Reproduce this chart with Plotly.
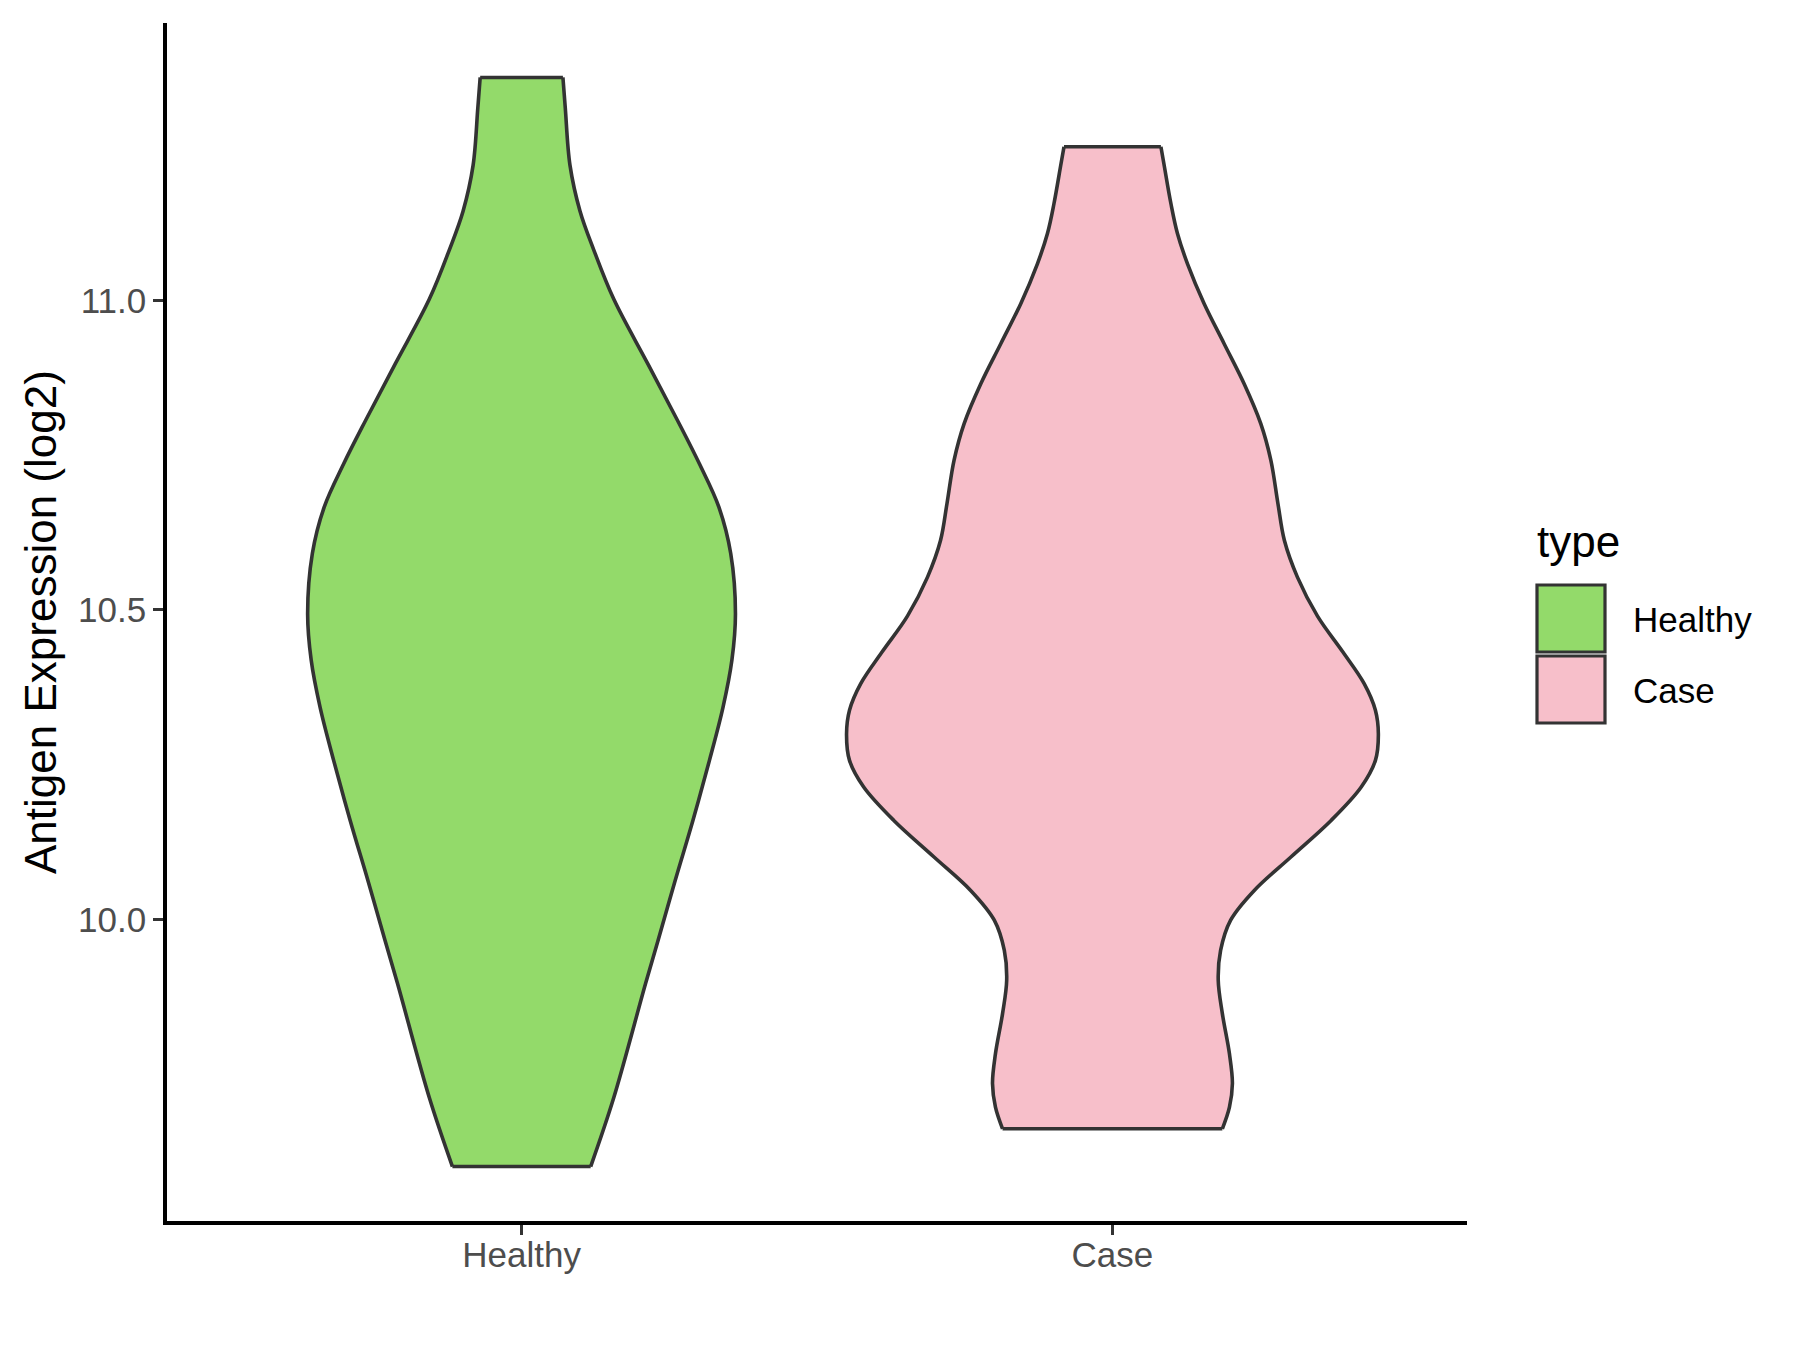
import plotly.graph_objects as go

# groups and colours (ggplot violin, fill by type)
categories = ["Healthy", "Case"]
fill_colors = ["#93DA6A", "#F7BFCA"]
outline_color = "#333333"

# density outline: expression value and half-width (x units)
healthy_y = [11.360, 11.311, 11.218, 11.144, 11.082, 11.002, 10.897, 10.806, 10.736,
             10.666, 10.591, 10.494, 10.419, 10.343, 10.257, 10.160, 10.063, 9.966,
             9.897, 9.712, 9.601]
healthy_w = [0.070, 0.074, 0.082, 0.099, 0.122, 0.156, 0.214, 0.264, 0.301,
             0.334, 0.354, 0.362, 0.356, 0.341, 0.318, 0.290, 0.260, 0.231,
             0.210, 0.156, 0.117]

case_y = [11.248, 11.221, 11.156, 11.108, 11.059, 10.995, 10.930, 10.865, 10.801,
          10.742, 10.672, 10.612, 10.553, 10.490, 10.432, 10.381, 10.338, 10.300,
          10.257, 10.214, 10.160, 10.101, 10.047, 9.999, 9.950, 9.902, 9.848,
          9.783, 9.735, 9.697, 9.662]
case_w = [0.082, 0.087, 0.099, 0.110, 0.127, 0.155, 0.189, 0.223, 0.251,
          0.268, 0.280, 0.291, 0.313, 0.347, 0.390, 0.426, 0.445, 0.450,
          0.445, 0.421, 0.370, 0.302, 0.240, 0.200, 0.183, 0.179, 0.186,
          0.198, 0.203, 0.198, 0.186]

y_ticks = [10.0, 10.5, 11.0]
y_title = "Antigen Expression (log2)"
legend_title = "type"

FONT = "Liberation Sans, Arial, sans-serif"
W, H = 1800, 1350
# page body adds 8px, so plot area lands at x 167..1467, y 23..1221 on screen
L, T = 159, 15
PW, PH = 1300, 1198
R, B = W - L - PW, H - T - PH

profiles = [(healthy_y, healthy_w), (case_y, case_w)]
line_w = 3.6

fig = go.Figure()
for i, (name, (ys, ws), color) in enumerate(zip(categories, profiles, fill_colors)):
    pos = i + 1
    side = dict(color=outline_color, width=line_w, shape="spline", smoothing=1.0)
    # left edge, then right edge filled back to it
    fig.add_trace(go.Scatter(x=[pos - w for w in ws], y=ys, mode="lines", line=side,
                             showlegend=False, hoverinfo="skip"))
    fig.add_trace(go.Scatter(x=[pos + w for w in ws], y=ys, mode="lines", line=side,
                             fill="tonextx", fillcolor=color, name=name,
                             showlegend=False, hoverinfo="skip"))
    # flat ends of the violin
    fig.add_trace(go.Scatter(
        x=[pos - ws[0], pos + ws[0], None, pos - ws[-1], pos + ws[-1]],
        y=[ys[0], ys[0], None, ys[-1], ys[-1]],
        mode="lines", line=dict(color=outline_color, width=line_w),
        showlegend=False, hoverinfo="skip",
    ))

all_y = healthy_y + case_y
lo, hi = min(all_y), max(all_y)
pad = 0.05 * (hi - lo)

axis_common = dict(
    showgrid=False, zeroline=False, showline=True, linecolor="black", linewidth=3.6,
    ticks="outside", ticklen=10, tickwidth=3, tickcolor="#333333",
    tickfont=dict(family=FONT, size=35, color="#4D4D4D"),
)
fig.update_xaxes(range=[0.4, 2.6], tickvals=[1, 2], ticktext=categories,
                 ticklabelstandoff=-10, **axis_common)
fig.update_yaxes(range=[lo - pad, hi + pad], tickvals=y_ticks,
                 ticktext=[f"{v:.1f}" for v in y_ticks], **axis_common)


def px(xs):
    # screen x -> paper
    return (xs - 167) / PW


def py(ys):
    # screen y -> paper
    return (1221 - ys) / PH


# y axis title
fig.add_annotation(text=y_title, textangle=-90, x=px(40), y=0.5, xref="paper", yref="paper",
                   xanchor="center", yanchor="middle", showarrow=False,
                   font=dict(family=FONT, size=44, color="black"))

# hand-drawn legend (ggplot style keys)
fig.add_annotation(text=legend_title, x=px(1535), y=py(541), xref="paper", yref="paper",
                   xanchor="left", yanchor="middle", showarrow=False,
                   font=dict(family=FONT, size=44, color="black"))
key_tops = [585, 656]
for name, color, top in zip(categories, fill_colors, key_tops):
    fig.add_shape(type="rect", xref="paper", yref="paper",
                  x0=px(1537), x1=px(1605), y0=py(top), y1=py(top + 67),
                  fillcolor=color, line=dict(color=outline_color, width=3.2))
    fig.add_annotation(text=name, x=px(1631), y=py(top + 34), xref="paper", yref="paper",
                       xanchor="left", yanchor="middle", showarrow=False,
                       font=dict(family=FONT, size=35, color="black"))

fig.update_layout(
    width=W, height=H,
    margin=dict(l=L, r=R, t=T, b=B),
    plot_bgcolor="white", paper_bgcolor="white",
    font=dict(family=FONT),
    showlegend=False,
)

fig.write_html("out.html")
